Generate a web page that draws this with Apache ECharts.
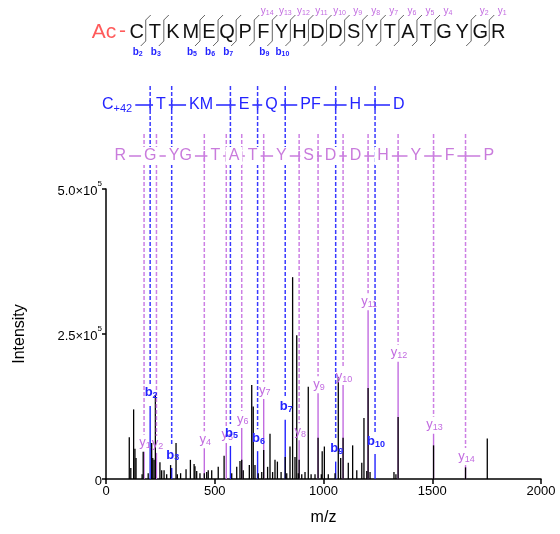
<!DOCTYPE html>
<html>
<head>
<meta charset="utf-8">
<script src="https://cdn.jsdelivr.net/npm/echarts@6/dist/echarts.min.js"></script>
<style>
  html, body { margin: 0; padding: 0; background: #ffffff; }
  #chart { width: 560px; height: 534px; }
</style>
</head>
<body>
<div id="chart"></div>
<script>
// Peptide sequence (N-terminal acetylation)
const nTermMod = 'Ac';
const residues = ['C','T','K','M','E','Q','P','F','Y','H','D','D','S','Y','T','A','T','G','Y','G','R'];

// b ions (the acetyl cap counts as position 1)
const bIonNumbers   = [2, 3, 5, 6, 7, 9, 10];
const bIonMz        = [203, 302, 572, 697, 824, 1056, 1237];
const bIonIntensity = [126000, 19000, 57000, 48000, 102000, 30000, 43000];

// y ions
const yIonNumbers   = [1, 2, 4, 5, 6, 7, 8, 9, 10, 11, 12, 13, 14];
const yIonMz        = [175, 232, 452, 553, 624, 725, 888, 975, 1090, 1205, 1343, 1506, 1653];
const yIonIntensity = [47000, 45000, 53000, 62000, 88000, 138000, 67000, 148000, 162000, 291000, 202000, 78000, 24000];

// Residue gaps read between successive b / y ions
const bLadderLabels = ['C', 'T', 'KM', 'E', 'Q', 'PF', 'H', 'D'];
const bLadderFirstSub = '+42';
const yLadderLabels = ['R', 'G', 'YG', 'T', 'A', 'T', 'Y', 'S', 'D', 'D', 'H', 'Y', 'F', 'P'];

// Full spectrum (all centroided peaks)
const peakMz = [107, 114, 127, 133, 138, 166, 171, 194, 210, 215, 221, 227, 248, 256, 267, 279, 297,
  322, 328, 343, 368, 388, 405, 409, 417, 432, 452, 463, 470, 486, 516, 543, 578, 601, 616, 624,
  631, 659, 670, 677, 685, 700, 716, 725, 743, 754, 766, 777, 788, 805, 824, 831, 846, 858, 869,
  877, 884, 888, 900, 915, 930, 943, 961, 975, 990, 994, 1004, 1022, 1053, 1068, 1079, 1090,
  1114, 1134, 1153, 1176, 1186, 1199, 1205, 1214, 1324, 1333, 1343, 1506, 1653, 1753];
const peakIntensity = [72000, 19000, 120000, 52000, 36000, 8000, 47000, 10000, 62000, 36000, 33000,
  145000, 29000, 15000, 15000, 8000, 24000, 62000, 8000, 10000, 17000, 33000, 26000, 22000, 14000,
  10000, 10000, 12000, 15000, 15000, 21000, 40000, 10000, 21000, 31000, 33000, 15000, 24000,
  162000, 125000, 24000, 10000, 12000, 50000, 21000, 78000, 12000, 33000, 30000, 12000, 38000,
  10000, 56000, 348000, 38000, 248000, 10000, 33000, 8000, 12000, 159000, 8000, 8000, 71000,
  8000, 48000, 56000, 8000, 10000, 176000, 36000, 71000, 28000, 58000, 15000, 28000, 105000,
  14000, 157000, 12000, 12000, 8000, 107000, 58000, 20000, 70000];

// Axis ranges
const mzRange = [0, 2000];
const mzStep = 500;
const intensityRange = [0, 500000];
const intensityStep = 250000;

const FONT = '"Liberation Sans", Arial, sans-serif';
const B_COLOR = '#2323ff';
const B_DASH = '#3a3aff';
const Y_COLOR = '#c26ce0';
const Y_DASH = '#cd80e4';
const Y_LADDER = '#c97bdc';

function ionRich(color, size, subSize, bold) {
  const w = bold ? 'bold' : 'normal';
  return {
    m: { fontSize: size, fontWeight: w, fontFamily: FONT, fill: color, color: color, lineHeight: size + 2 },
    s: { fontSize: subSize, fontWeight: w, fontFamily: FONT, fill: color, color: color, lineHeight: subSize, verticalAlign: 'bottom' }
  };
}

function textEl(x, y, text, color, size, opts) {
  opts = opts || {};
  return {
    type: 'text', x: x, y: y, z2: opts.z2 || 10,
    style: Object.assign({
      text: text, fill: color, font: (opts.weight || 'normal') + ' ' + size + 'px ' + FONT,
      align: opts.align || 'center', verticalAlign: 'middle',
      textAlign: opts.align || 'center', textVerticalAlign: 'middle'
    }, opts.extra || {})
  };
}

function seg(x1, y1, x2, y2, color, width, dash) {
  return {
    type: 'line', shape: { x1: x1, y1: y1, x2: x2, y2: y2 },
    style: { stroke: color, lineWidth: width, lineDash: dash || null }
  };
}

// Stick renderer for spectral peaks
function stickRenderer(color, width) {
  return function (params, api) {
    const p0 = api.coord([api.value(0), 0]);
    const p1 = api.coord([api.value(0), api.value(1)]);
    return seg(p0[0], p0[1], p1[0], p1[1], color, width);
  };
}

// Ladders above the spectrum and ion labels with dashed guides
function renderAnnotations(params, api) {
  const children = [];
  const gridTop = params.coordSys.y;
  const rowB = gridTop - 84;
  const rowY = gridTop - 33;
  const dashTopB = gridTop - 103;
  const dashTopY = gridTop - 55;
  const xOf = mz => api.coord([mz, 0])[0];
  const yOf = v => api.coord([0, v])[1];

  function ladder(ionX, labels, color, rowYpx, firstSub) {
    const n = ionX.length;
    const leftEnd = ionX[0] - 15;
    const rightEnd = ionX[n - 1] + 15;
    children.push(seg(leftEnd, rowYpx, rightEnd, rowYpx, color, 1.5));
    ionX.forEach(x => children.push(seg(x, rowYpx - 5, x, rowYpx + 5, color, 1.5)));
    labels.forEach((lab, i) => {
      let x, align = 'center';
      if (i === 0) { x = ionX[0] - 15; align = 'right'; }
      else if (i === labels.length - 1) { x = ionX[n - 1] + 15; align = 'left'; }
      else { x = (ionX[i - 1] + ionX[i]) / 2; }
      const txt = (i === 0 && firstSub) ? '{m|' + lab + '}{s|' + firstSub + '}' : '{m|' + lab + '}';
      children.push({
        type: 'text', x: x, y: rowYpx, z2: 5,
        style: {
          text: txt, align: align, verticalAlign: 'middle', textAlign: align, textVerticalAlign: 'middle',
          backgroundColor: '#ffffff', padding: [0, 3, 0, 3],
          rich: {
            m: { fontSize: 16, fontFamily: FONT, fill: color, color: color, lineHeight: 18 },
            s: { fontSize: 11, fontFamily: FONT, fill: color, color: color, lineHeight: 11, verticalAlign: 'bottom' }
          }
        }
      });
    });
  }

  const bx = bIonMz.map(xOf);
  const yx = yIonMz.map(xOf);
  ladder(yx, yLadderLabels, Y_LADDER, rowY, null);
  ladder(bx, bLadderLabels, B_COLOR, rowB, bLadderFirstSub);

  // y-ion labels and guides
  yIonMz.forEach((mz, i) => {
    const x = yx[i];
    const top = yOf(yIonIntensity[i]);
    const ly = top - 9;
    children.push(seg(x, dashTopY, x, ly - 8, Y_DASH, 1.5, [4, 2]));
    children.push({
      type: 'text', x: x + 1, y: ly, z2: 20,
      style: {
        text: '{m|y}{s|' + yIonNumbers[i] + '}', align: 'center', verticalAlign: 'middle',
        textAlign: 'center', textVerticalAlign: 'middle', rich: ionRich(Y_COLOR, 13, 9, false)
      }
    });
  });
  // b-ion labels and guides
  bIonMz.forEach((mz, i) => {
    const x = bx[i];
    const top = yOf(bIonIntensity[i]);
    const ly = top - 13;
    children.push(seg(x, dashTopB, x, ly - 9, B_DASH, 1.5, [4, 2]));
    children.push({
      type: 'text', x: x + 1, y: ly, z2: 20,
      style: {
        text: '{m|b}{s|' + bIonNumbers[i] + '}', align: 'center', verticalAlign: 'middle',
        textAlign: 'center', textVerticalAlign: 'middle', rich: ionRich(B_COLOR, 13, 9, true)
      }
    });
  });
  return { type: 'group', children: children };
}

// Sequence header with fragmentation marks
function sequenceGraphic() {
  const els = [];
  const x0 = 136.7, step = 18.08, cy = 32;
  const total = residues.length;
  els.push(textEl(104, cy, nTermMod, '#ff5b5b', 21));
  els.push(textEl(122.5, cy - 1, '-', '#ff5b5b', 21));
  residues.forEach((r, i) => els.push(textEl(x0 + i * step, cy, r, '#111111', 20)));
  for (let k = 1; k < total; k++) {
    const bn = k + 1, yn = total - k;
    const hasB = bIonNumbers.indexOf(bn) >= 0;
    const hasY = yIonNumbers.indexOf(yn) >= 0;
    if (!hasB && !hasY) continue;
    const dx = x0 + (k - 1) * step + step / 2;
    els.push({
      type: 'polyline',
      shape: { points: [[dx - 5, cy + 14], [dx, cy + 9], [dx, cy - 12], [dx + 5, cy - 17]] },
      style: { stroke: '#666666', lineWidth: 1, fill: null }
    });
    if (hasB) {
      els.push({
        type: 'text', x: dx - 8, y: cy + 20,
        style: { text: '{m|b}{s|' + bn + '}', align: 'center', verticalAlign: 'middle',
          textAlign: 'center', textVerticalAlign: 'middle', rich: ionRich(B_COLOR, 10, 7, true) }
      });
    }
    if (hasY) {
      els.push({
        type: 'text', x: dx + 13, y: cy - 21,
        style: { text: '{m|y}{s|' + yn + '}', align: 'center', verticalAlign: 'middle',
          textAlign: 'center', textVerticalAlign: 'middle', rich: ionRich(Y_COLOR, 10, 7, false) }
      });
    }
  }
  return els;
}

const chart = echarts.init(document.getElementById('chart'), null, { renderer: 'canvas' });

const option = {
  animation: false,
  backgroundColor: '#ffffff',
  grid: { left: 106, right: 19, top: 189, bottom: 55 },
  xAxis: {
    type: 'value', min: mzRange[0], max: mzRange[1], interval: mzStep,
    name: 'm/z', nameLocation: 'middle', nameGap: 31,
    nameTextStyle: { fontSize: 16, fontFamily: FONT, color: '#000' },
    axisLine: { lineStyle: { color: '#000', width: 1.5 } },
    axisTick: { inside: false, length: 5, lineStyle: { color: '#000', width: 1.5 } },
    axisLabel: { fontSize: 13, fontFamily: FONT, color: '#000', margin: 6, formatter: v => String(v) },
    splitLine: { show: false }
  },
  yAxis: {
    type: 'value', min: intensityRange[0], max: intensityRange[1], interval: intensityStep,
    name: 'Intensity', nameLocation: 'middle', nameGap: 78,
    nameTextStyle: { fontSize: 16, fontFamily: FONT, color: '#000' },
    axisLine: { show: true, lineStyle: { color: '#000', width: 1.5 } },
    axisTick: { show: true, inside: false, length: 4, lineStyle: { color: '#000', width: 1.5 } },
    axisLabel: {
      margin: 4,
      formatter: v => v === 0 ? '{m|0}' : '{m|' + (v / 100000).toFixed(1) + '×10}{e|5}',
      rich: {
        m: { fontSize: 13, fontFamily: FONT, color: '#000', lineHeight: 18, verticalAlign: 'bottom' },
        e: { fontSize: 8, fontFamily: FONT, color: '#000', lineHeight: 9, verticalAlign: 'top' }
      }
    },
    splitLine: { show: false }
  },
  graphic: { elements: sequenceGraphic() },
  series: [
    {
      name: 'y ions', type: 'custom', z: 2, clip: false,
      renderItem: stickRenderer(Y_COLOR, 1.4),
      encode: { x: 0, y: 1 },
      data: yIonMz.map((m, i) => [m, yIonIntensity[i]])
    },
    {
      name: 'b ions', type: 'custom', z: 2, clip: false,
      renderItem: stickRenderer(B_COLOR, 1.4),
      encode: { x: 0, y: 1 },
      data: bIonMz.map((m, i) => [m, bIonIntensity[i]])
    },
    {
      name: 'spectrum', type: 'custom', z: 3, clip: false,
      renderItem: stickRenderer('#000000', 1.3),
      encode: { x: 0, y: 1 },
      data: peakMz.map((m, i) => [m, peakIntensity[i]])
    },
    {
      name: 'annotations', type: 'custom', z: 4, clip: false, silent: true,
      renderItem: renderAnnotations,
      encode: { x: 0, y: 1 },
      data: [[0, 0]]
    }
  ]
};

chart.setOption(option);
</script>
</body>
</html>
